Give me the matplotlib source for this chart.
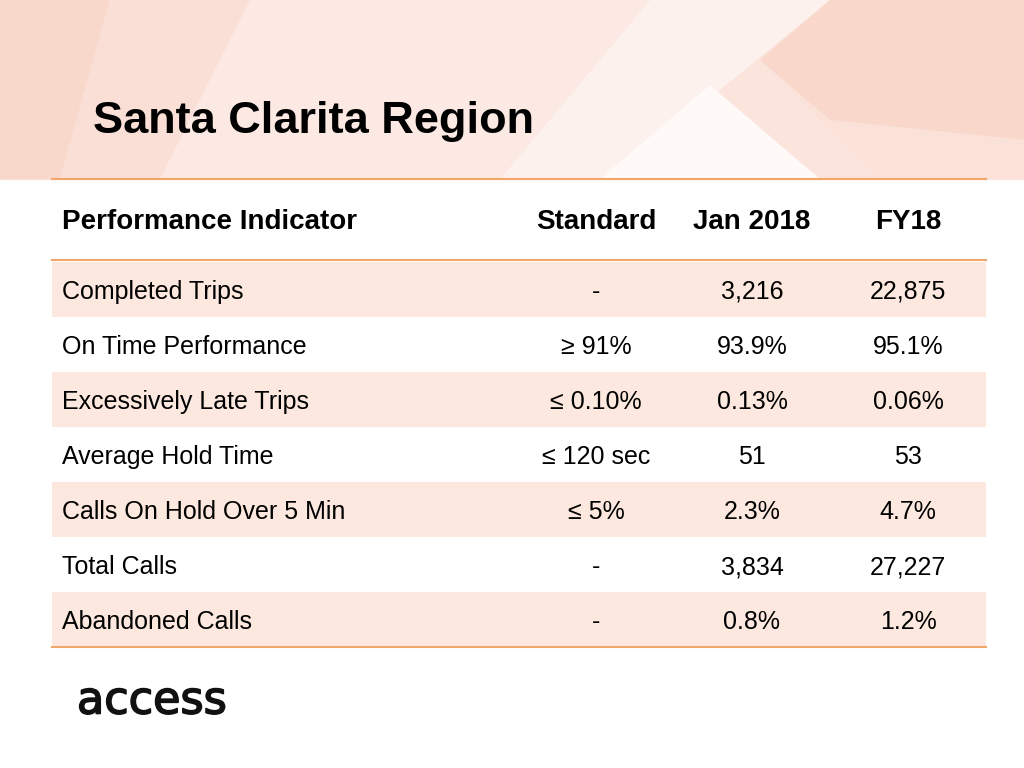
import matplotlib.pyplot as plt
import matplotlib.patheffects as pe
from matplotlib.patches import Rectangle, Polygon

# table data
indicators = ['Completed Trips', 'On Time Performance', 'Excessively Late Trips',
              'Average Hold Time', 'Calls On Hold Over 5 Min', 'Total Calls', 'Abandoned Calls']
standards = ['-', '\u2265 91%', '\u2264 0.10%', '\u2264 120 sec', '\u2264 5%', '-', '-']
jan_2018 = ['3,216', '93.9%', '0.13%', '51', '2.3%', '3,834', '0.8%']
fy18 = ['22,875', '95.1%', '0.06%', '53', '4.7%', '27,227', '1.2%']
headers = ['Performance Indicator', 'Standard', 'Jan 2018', 'FY18']

plt.rcParams['font.family'] = ['Liberation Sans', 'DejaVu Sans']

fig = plt.figure(figsize=(10.24, 7.68), dpi=100)
ax = fig.add_axes([0, 0, 1, 1])
ax.set_xlim(0, 1024)
ax.set_ylim(768, 0)
ax.axis('off')

# header band with soft polygons
ax.add_patch(Rectangle((0, 0), 1024, 179, color='#fbe4dc', zorder=0))
shapes = [
    ([(0, 0), (110, 0), (60, 179), (0, 179)], '#f9d8cc'),
    ([(110, 0), (250, 0), (160, 179), (60, 179)], '#fadfd6'),
    ([(250, 0), (650, 0), (500, 179), (160, 179)], '#fce9e3'),
    ([(650, 0), (830, 0), (720, 90), (600, 179), (500, 179)], '#fdf1ed'),
    ([(600, 179), (710, 85), (820, 179)], '#fff9f7'),
    ([(830, 0), (1024, 0), (1024, 140), (830, 120), (760, 60)], '#f9d7cb'),
    ([(760, 60), (830, 120), (1024, 140), (1024, 179), (880, 179)], '#fbe2d9'),
]
for pts, c in shapes:
    ax.add_patch(Polygon(pts, closed=True, color=c, lw=0, zorder=0.5))

ax.text(93, 122, 'Santa Clarita Region', fontsize=32.5, fontweight='bold',
        va='center', ha='left', color='black')

# table layout
x0, x1 = 52, 986
col_x = [62, 596, 752, 908]
head_y = 222
row_top = 262
row_h = 55
line_color = '#f3a66a'
shade = '#fce8de'

ax.plot([x0, x1], [179, 179], color=line_color, lw=1.5)
ax.plot([x0, x1], [260, 260], color=line_color, lw=1.5)

for j, h in enumerate(headers):
    ax.text(col_x[j], head_y, h, fontsize=20, fontweight='bold',
            ha='left' if j == 0 else 'center', va='center')

for i in range(len(indicators)):
    top = row_top + i * row_h
    if i % 2 == 0:
        ax.add_patch(Rectangle((x0, top), x1 - x0, row_h, color=shade, lw=0, zorder=0))
    yc = top + row_h / 2 + 2.5
    row = [indicators[i], standards[i], jan_2018[i], fy18[i]]
    for j, val in enumerate(row):
        ax.text(col_x[j], yc, val, fontsize=18,
                ha='left' if j == 0 else 'center', va='center')

ax.plot([x0, x1], [row_top + len(indicators) * row_h, row_top + len(indicators) * row_h],
        color=line_color, lw=1.5)

# logo
ax.text(77, 701, 'access', fontsize=32, ha='left', va='center',
        color='#111111', family=['DejaVu Sans'],
        path_effects=[pe.withStroke(linewidth=1.2, foreground='#111111')])

fig.savefig('out.png', dpi=100)
